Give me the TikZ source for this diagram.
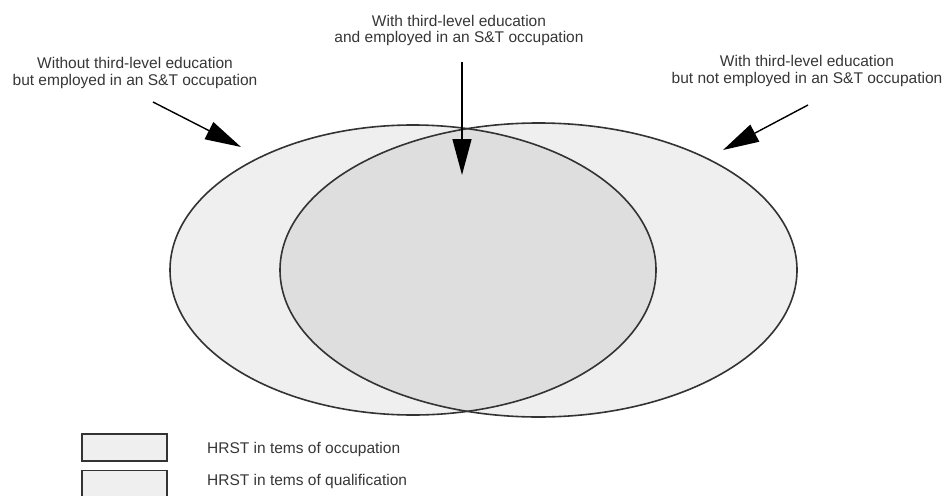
\documentclass[tikz,border=0pt]{standalone}
\usepackage{fontspec}
\setmainfont{Liberation Sans}
\usetikzlibrary{arrows.meta}
\definecolor{lightfill}{HTML}{EFEFEF}
\definecolor{darkfill}{HTML}{DEDEDE}
\definecolor{edgecol}{HTML}{333333}
\definecolor{txtcol}{HTML}{363636}
\begin{document}
\begin{tikzpicture}[x=1pt,y=-1pt,
  lbl/.style={font=\fontsize{15.5}{17}\selectfont, text=txtcol, inner sep=0pt, align=center, anchor=base},
  legtxt/.style={font=\fontsize{15.5}{17}\selectfont, text=txtcol, inner sep=0pt, anchor=base west},
  outline/.style={draw=edgecol, line width=1.6pt},
  legbox/.style={draw=edgecol, line width=1.6pt, fill=lightfill, minimum width=85pt, minimum height=27pt, inner sep=0pt},
  pointer/.style={draw=black, line width=1.4pt, -{Triangle[length=36pt,width=19pt]}}]
\useasboundingbox (0,0) rectangle (944,495);
% fills
\fill[lightfill] (413,270) ellipse [x radius=243, y radius=145];
\fill[lightfill] (538.5,270) ellipse [x radius=258.5, y radius=147];
\begin{scope}
  \clip (413,270) ellipse [x radius=243, y radius=145];
  \fill[darkfill] (538.5,270) ellipse [x radius=258.5, y radius=147];
\end{scope}
% outlines
\draw[outline] (413,270) ellipse [x radius=243, y radius=145];
\draw[outline] (538.5,270) ellipse [x radius=258.5, y radius=147];
% labels (anchor base = baseline of the last line)
\node[lbl] (lblL) at (135,85) {Without third-level education\\but employed in an S\&T occupation};
\node[lbl] (lblC) at (459,43) {With third-level education\\and employed in an S\&T occupation};
\node[lbl] (lblR) at (807,83) {With third-level education\\but not employed in an S\&T occupation};
% arrow ends
\coordinate (tailL) at (153,102);
\coordinate (tipL) at (241,147);
\coordinate (tailC) at (462,62);
\coordinate (tipC) at (462,175);
\coordinate (tailR) at (808,105);
\coordinate (tipR) at (723,150);
\draw[pointer] (tailL) -- (tipL);
\draw[pointer] (tailC) -- (tipC);
\draw[pointer] (tailR) -- (tipR);
% legend
\node[legbox] (box1) at (124.5,447.5) {};
\node[legbox] (box2) at (124.5,484) {};
\node[legtxt] (leg1) at (207,453) {HRST in tems of occupation};
\node[legtxt] (leg2) at (207,485) {HRST in tems of qualification};
\end{tikzpicture}
\end{document}
